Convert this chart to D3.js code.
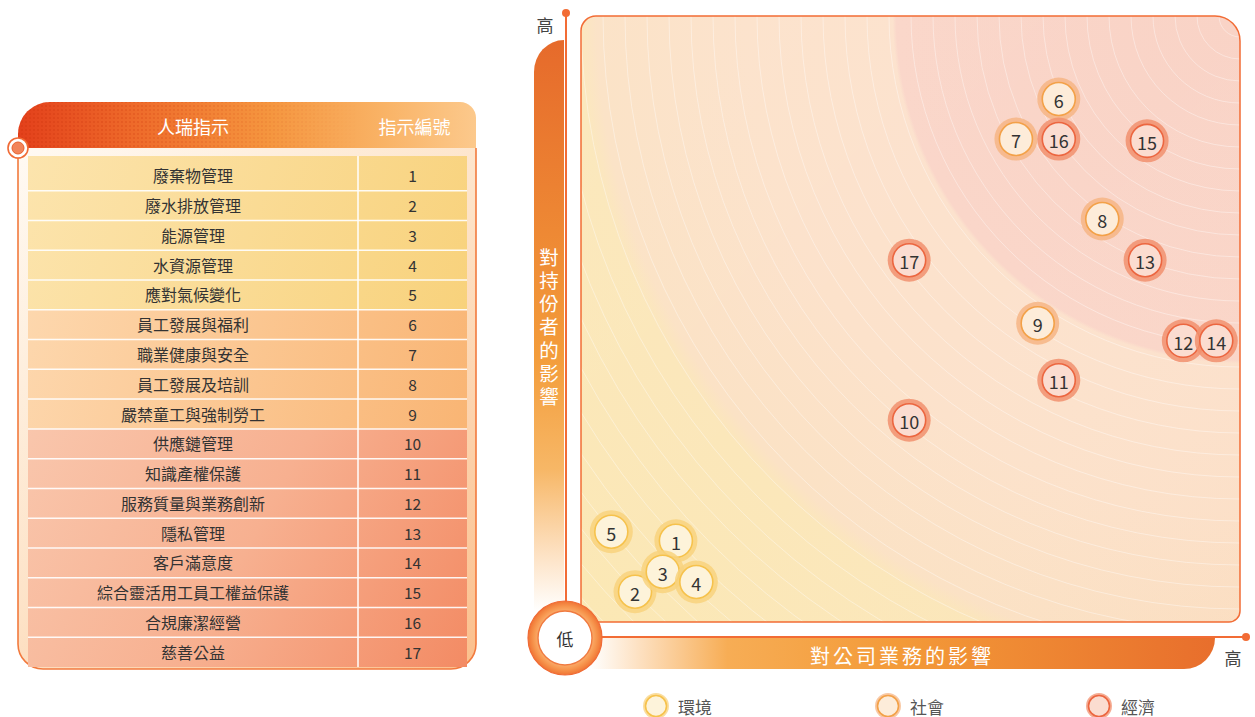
<!DOCTYPE html>
<html><head><meta charset="utf-8">
<script src="https://cdn.jsdelivr.net/npm/d3@7"></script>
<style>
html,body{margin:0;padding:0;background:#fff;}
svg{display:block;font-family:"Noto Sans CJK TC","Noto Sans CJK SC","Noto Sans",sans-serif;}
</style></head>
<body>
<svg id="chart" width="1255" height="717"></svg>
<script>
// ---------- data ----------
const ids = [1,2,3,4,5,6,7,8,9,10,11,12,13,14,15,16,17];
const categories = ['廢棄物管理','廢水排放管理','能源管理','水資源管理','應對氣候變化',
  '員工發展與福利','職業健康與安全','員工發展及培訓','嚴禁童工與強制勞工',
  '供應鏈管理','知識產權保護','服務質量與業務創新','隱私管理','客戶滿意度',
  '綜合靈活用工員工權益保護','合規廉潔經營','慈善公益'];
const groups = ['env','env','env','env','env','soc','soc','soc','soc',
  'eco','eco','eco','eco','eco','eco','eco','eco'];
// impact on business (x) and impact on stakeholders (y), 0-100
const businessImpact =    [14.4, 8.2,12.4,17.5, 4.6,72.5,66.0,79.1,69.3,49.8,72.5,91.4,85.6,96.4,85.9,72.5,49.8];
const stakeholderImpact = [13.4, 5.0, 8.3, 6.6,14.9,86.3,79.7,66.5,49.3,33.3,39.9,46.4,59.7,46.4,79.4,79.7,59.7];
const headerLabels = ['人瑞指示','指示編號'];
const legendKeys = ['env','soc','eco'];
const legendLabels = ['環境','社會','經濟'];
const yAxisTitle = '對持份者的影響';
const xAxisTitle = '對公司業務的影響';
const highLabel = '高', lowLabel = '低';

// ---------- styles ----------
const bubbleStyle = {
  env:{fill:'#fdf3da', stroke:'#f6c24c', halo:'#f8d27e'},
  soc:{fill:'#fdecd9', stroke:'#f3a148', halo:'#f6b585'},
  eco:{fill:'#fbdcd0', stroke:'#ec6640', halo:'#f1906f'}
};

const svg = d3.select('#chart');
const defs = svg.append('defs');

function linGrad(id, x1,y1,x2,y2, stops){
  const g = defs.append('linearGradient').attr('id',id).attr('gradientUnits','userSpaceOnUse')
    .attr('x1',x1).attr('y1',y1).attr('x2',x2).attr('y2',y2);
  stops.forEach(s=>g.append('stop').attr('offset',s[0]).attr('stop-color',s[1]).attr('stop-opacity', s[2]===undefined?1:s[2]));
  return `url(#${id})`;
}

// ---------- table ----------
const T = {x0:18, x1:476, hy0:102, hy1:148, rx0:28, rx1:467, colX:358, ry0:161, ry1:667, bottom:669};

const hdrPath = `M${T.x0},${T.hy1} L${T.x0},${T.hy0+32} A32,32 0 0 1 ${T.x0+32},${T.hy0} L${T.x1-16},${T.hy0} A16,16 0 0 1 ${T.x1},${T.hy0+16} L${T.x1},${T.hy1} Z`;
const hdrFill = linGrad('hdrG', T.x0, 0, T.x1, 0, [[0,'#e3401b'],[0.25,'#ee6a2a'],[0.55,'#f5963f'],[0.8,'#f9b366'],[1,'#fcc98c']]);
svg.append('path').attr('d',hdrPath).attr('fill', hdrFill);
const pat = defs.append('pattern').attr('id','dots').attr('width',4).attr('height',4).attr('patternUnits','userSpaceOnUse');
pat.append('circle').attr('cx',2).attr('cy',2).attr('r',1).attr('fill','#c8300c').attr('opacity',0.35);
const fadeMask = defs.append('mask').attr('id','hdrMask');
fadeMask.append('rect').attr('x',T.x0).attr('y',T.hy0).attr('width',T.x1-T.x0).attr('height',T.hy1-T.hy0)
  .attr('fill', linGrad('maskG', T.x0,0,T.x1*0.75,0, [[0,'#fff'],[0.5,'#999'],[1,'#000']]));
svg.append('path').attr('d',hdrPath).attr('fill','url(#dots)').attr('mask','url(#hdrMask)');

const hdrX = [(T.rx0+T.colX)/2, (T.colX+T.rx1)/2+2];
svg.selectAll('.hdr').data(headerLabels).enter().append('text')
  .attr('x',(d,i)=>hdrX[i]).attr('y',(T.hy0+T.hy1)/2+1)
  .attr('text-anchor','middle').attr('dominant-baseline','central')
  .attr('fill','#fff').attr('font-size',18).text(d=>d);

// panel
const panelFill = linGrad('panelG', T.x0, T.hy1, T.x1, T.bottom, [[0,'#fffaf3'],[0.5,'#fde3c8'],[1,'#fbbf8c']]);
svg.append('path')
  .attr('d',`M${T.x0},${T.hy1} L${T.x0},${T.bottom-25} A25,25 0 0 0 ${T.x0+25},${T.bottom} L${T.x1-25},${T.bottom} A25,25 0 0 0 ${T.x1},${T.bottom-25} L${T.x1},${T.hy1}`)
  .attr('fill',panelFill).attr('stroke','#f27a3e').attr('stroke-width',1.6);

const rowY = d3.scaleBand().domain(d3.range(ids.length)).range([T.ry0, T.ry1]);
const rowFill = {
  env: linGrad('rowEnv', T.rx0, 157, T.rx1, 310, [[0,'#fce4ad'],[1,'#f8d27c']]),
  soc: linGrad('rowSoc', T.rx0, 310, T.rx1, 428, [[0,'#fdd7ad'],[1,'#f9b574']]),
  eco: linGrad('rowEco', T.rx0, 428, T.rx1, 667, [[0,'#f9c6ac'],[0.5,'#f7b090'],[1,'#f38b64']])
};
svg.selectAll('.row').data(ids).enter().append('rect')
  .attr('x',T.rx0).attr('width',T.rx1-T.rx0)
  .attr('y',(d,i)=> i===0 ? 156 : rowY(i))
  .attr('height',(d,i)=> i===0 ? rowY.bandwidth()+ (rowY(0)-156) : rowY.bandwidth())
  .attr('fill',(d,i)=>rowFill[groups[i]]);
svg.selectAll('.sep').data(d3.range(1, ids.length)).enter().append('line')
  .attr('x1',T.rx0).attr('x2',T.rx1).attr('y1',d=>rowY(d)).attr('y2',d=>rowY(d))
  .attr('stroke','#fff').attr('stroke-width',1.5).attr('opacity',0.9);
svg.append('line').attr('x1',T.colX).attr('x2',T.colX).attr('y1',156).attr('y2',T.ry1)
  .attr('stroke','#fff').attr('stroke-width',1.5);
svg.selectAll('.rname').data(categories).enter().append('text')
  .attr('x',hdrX[0]).attr('y',(d,i)=>rowY(i)+rowY.bandwidth()/2-0.5)
  .attr('text-anchor','middle').attr('dominant-baseline','central')
  .attr('fill','#333').attr('font-size',16).text(d=>d);
svg.selectAll('.rid').data(ids).enter().append('text')
  .attr('x',(T.colX+T.rx1)/2).attr('y',(d,i)=>rowY(i)+rowY.bandwidth()/2-0.5)
  .attr('text-anchor','middle').attr('dominant-baseline','central')
  .attr('fill','#333').attr('font-size',15.5).text(d=>d);
svg.append('circle').attr('cx',T.x0).attr('cy',T.hy1).attr('r',10).attr('fill','#fff').attr('stroke','#f06a35').attr('stroke-width',1.6);
svg.append('circle').attr('cx',T.x0).attr('cy',T.hy1).attr('r',6).attr('fill','#f2845a').attr('stroke','#e8602e').attr('stroke-width',1);

// ---------- matrix ----------
const P = {x0:581, y0:16, x1:1240, y1:622};
const x = d3.scaleLinear().domain([0,100]).range([P.x0, P.x1]);
const y = d3.scaleLinear().domain([0,100]).range([P.y1, P.y0]);

const framePath = `M${P.x0},${P.y1} L${P.x0},${P.y0+15} A15,15 0 0 1 ${P.x0+15},${P.y0} L${P.x1-25},${P.y0} A25,25 0 0 1 ${P.x1},${P.y0+25} L${P.x1},${P.y1-11} A11,11 0 0 1 ${P.x1-11},${P.y1} Z`;
defs.append('clipPath').attr('id','plotClip').append('path').attr('d',framePath);

const rg = defs.append('radialGradient').attr('id','zoneG').attr('gradientUnits','userSpaceOnUse')
  .attr('cx',P.x1).attr('cy',P.y0).attr('r',900);
[[0,'#f9d3c6'],[0.382,'#fad6c9'],[0.386,'#fce2cd'],[0.55,'#fce2cb'],[0.715,'#fbe2c5'],[0.735,'#fbe7ba'],[1,'#fbe8b4']]
  .forEach(s=>rg.append('stop').attr('offset',s[0]).attr('stop-color',s[1]));
const plot = svg.append('g').attr('clip-path','url(#plotClip)');
plot.append('rect').attr('x',P.x0).attr('y',P.y0).attr('width',P.x1-P.x0).attr('height',P.y1-P.y0).attr('fill','url(#zoneG)');
plot.append('rect').attr('x',P.x0).attr('y',P.y0).attr('width',P.x1-P.x0).attr('height',P.y1-P.y0)
  .attr('fill', linGrad('shadeG', P.x0,P.y0,P.x1,P.y1, [[0,'#fff',0.05],[0.5,'#fff',0],[1,'#f6b48a',0.08]]));
plot.selectAll('.arc').data(d3.range(21, 1000, 22)).enter().append('circle')
  .attr('cx',P.x1).attr('cy',P.y0).attr('r',d=>d)
  .attr('fill','none').attr('stroke','#fff').attr('stroke-width',1).attr('opacity',0.38);
svg.append('path').attr('d',framePath).attr('fill','none').attr('stroke','#f26c35').attr('stroke-width',1.5);

// y-axis band
const AX = {vx:566, hy:637};
const yBandFill = linGrad('yBandG', 0, 40, 0, 612, [[0,'#e66a2b'],[0.55,'#f39c3a'],[0.75,'#f7b766'],[0.9,'#fde2c4'],[1,'#fff']]);
svg.append('path').attr('d',`M534,612 L534,72 A30,32 0 0 1 564,40 L564,612 Z`).attr('fill',yBandFill);
svg.append('text')
  .attr('x',549).attr('y',329)
  .attr('writing-mode','vertical-rl').attr('glyph-orientation-vertical',0)
  .attr('text-anchor','middle').attr('dominant-baseline','central')
  .attr('fill','#fff').attr('font-size',19.5).attr('letter-spacing',3.8).text(yAxisTitle);

// x-axis band
const xBandFill = linGrad('xBandG', 590, 0, 1215, 0, [[0,'#fff'],[0.08,'#fde0c0'],[0.22,'#f7ad55'],[0.5,'#f39a38'],[1,'#e86e2c']]);
svg.append('path').attr('d',`M590,${AX.hy+1} L1215,${AX.hy+1} A31,31 0 0 1 1184,669 L590,669 Z`).attr('fill',xBandFill);
svg.append('text').attr('x',902).attr('y',655).attr('text-anchor','middle').attr('dominant-baseline','central')
  .attr('fill','#fff').attr('font-size',20).attr('letter-spacing',3).text(xAxisTitle);

// axis lines
svg.append('line').attr('x1',AX.vx).attr('x2',AX.vx).attr('y1',13).attr('y2',610).attr('stroke','#f26c35').attr('stroke-width',2);
svg.append('circle').attr('cx',AX.vx).attr('cy',13).attr('r',4).attr('fill','#f26c35');
svg.append('line').attr('x1',590).attr('x2',1246).attr('y1',AX.hy).attr('y2',AX.hy).attr('stroke','#f26c35').attr('stroke-width',2);
svg.append('circle').attr('cx',1246).attr('cy',AX.hy).attr('r',4).attr('fill','#f26c35');
svg.append('text').attr('x',545).attr('y',24).attr('text-anchor','middle').attr('dominant-baseline','central')
  .attr('fill','#444').attr('font-size',17).text(highLabel);
svg.append('text').attr('x',1233).attr('y',657).attr('text-anchor','middle').attr('dominant-baseline','central')
  .attr('fill','#444').attr('font-size',17).text(highLabel);

// origin
const og = defs.append('radialGradient').attr('id','originG');
[[0,'#fde1c2'],[0.7,'#fbb070'],[0.85,'#f7964e'],[1,'#f07434']].forEach(s=>og.append('stop').attr('offset',s[0]).attr('stop-color',s[1]));
svg.append('circle').attr('cx',565).attr('cy',638).attr('r',37).attr('fill','url(#originG)').attr('stroke','#f06a35').attr('stroke-width',1.2);
svg.append('circle').attr('cx',565).attr('cy',638).attr('r',27).attr('fill','#fff').attr('stroke','#f07a40').attr('stroke-width',1.4);
svg.append('text').attr('x',565).attr('y',638).attr('text-anchor','middle').attr('dominant-baseline','central')
  .attr('fill','#333').attr('font-size',17).text(lowLabel);

// bubbles
const bubbles = svg.selectAll('.bub').data(ids).enter().append('g')
  .attr('transform',(d,i)=>`translate(${x(businessImpact[i])},${y(stakeholderImpact[i])})`);
bubbles.append('circle').attr('r',21.5).attr('fill',(d,i)=>bubbleStyle[groups[i]].halo).attr('opacity',0.85);
bubbles.append('circle').attr('r',16.5).attr('fill',(d,i)=>bubbleStyle[groups[i]].fill)
  .attr('stroke',(d,i)=>bubbleStyle[groups[i]].stroke).attr('stroke-width',1.6);
bubbles.append('text').attr('text-anchor','middle').attr('dominant-baseline','central').attr('y',1)
  .attr('fill','#333').attr('font-size',18).text(d=>d);

// legend
const legX = [656, 888, 1099];
const leg = svg.selectAll('.leg').data(legendKeys).enter().append('g')
  .attr('transform',(d,i)=>`translate(${legX[i]},706)`);
leg.append('circle').attr('r',13).attr('fill',d=>bubbleStyle[d].halo).attr('opacity',0.75);
leg.append('circle').attr('r',10.5).attr('fill',d=>bubbleStyle[d].fill).attr('stroke',d=>bubbleStyle[d].stroke).attr('stroke-width',1.6);
leg.append('text').attr('x',22).attr('dominant-baseline','central').attr('y',0)
  .attr('fill','#555').attr('font-size',17).text((d,i)=>legendLabels[i]);
</script>
</body></html>
